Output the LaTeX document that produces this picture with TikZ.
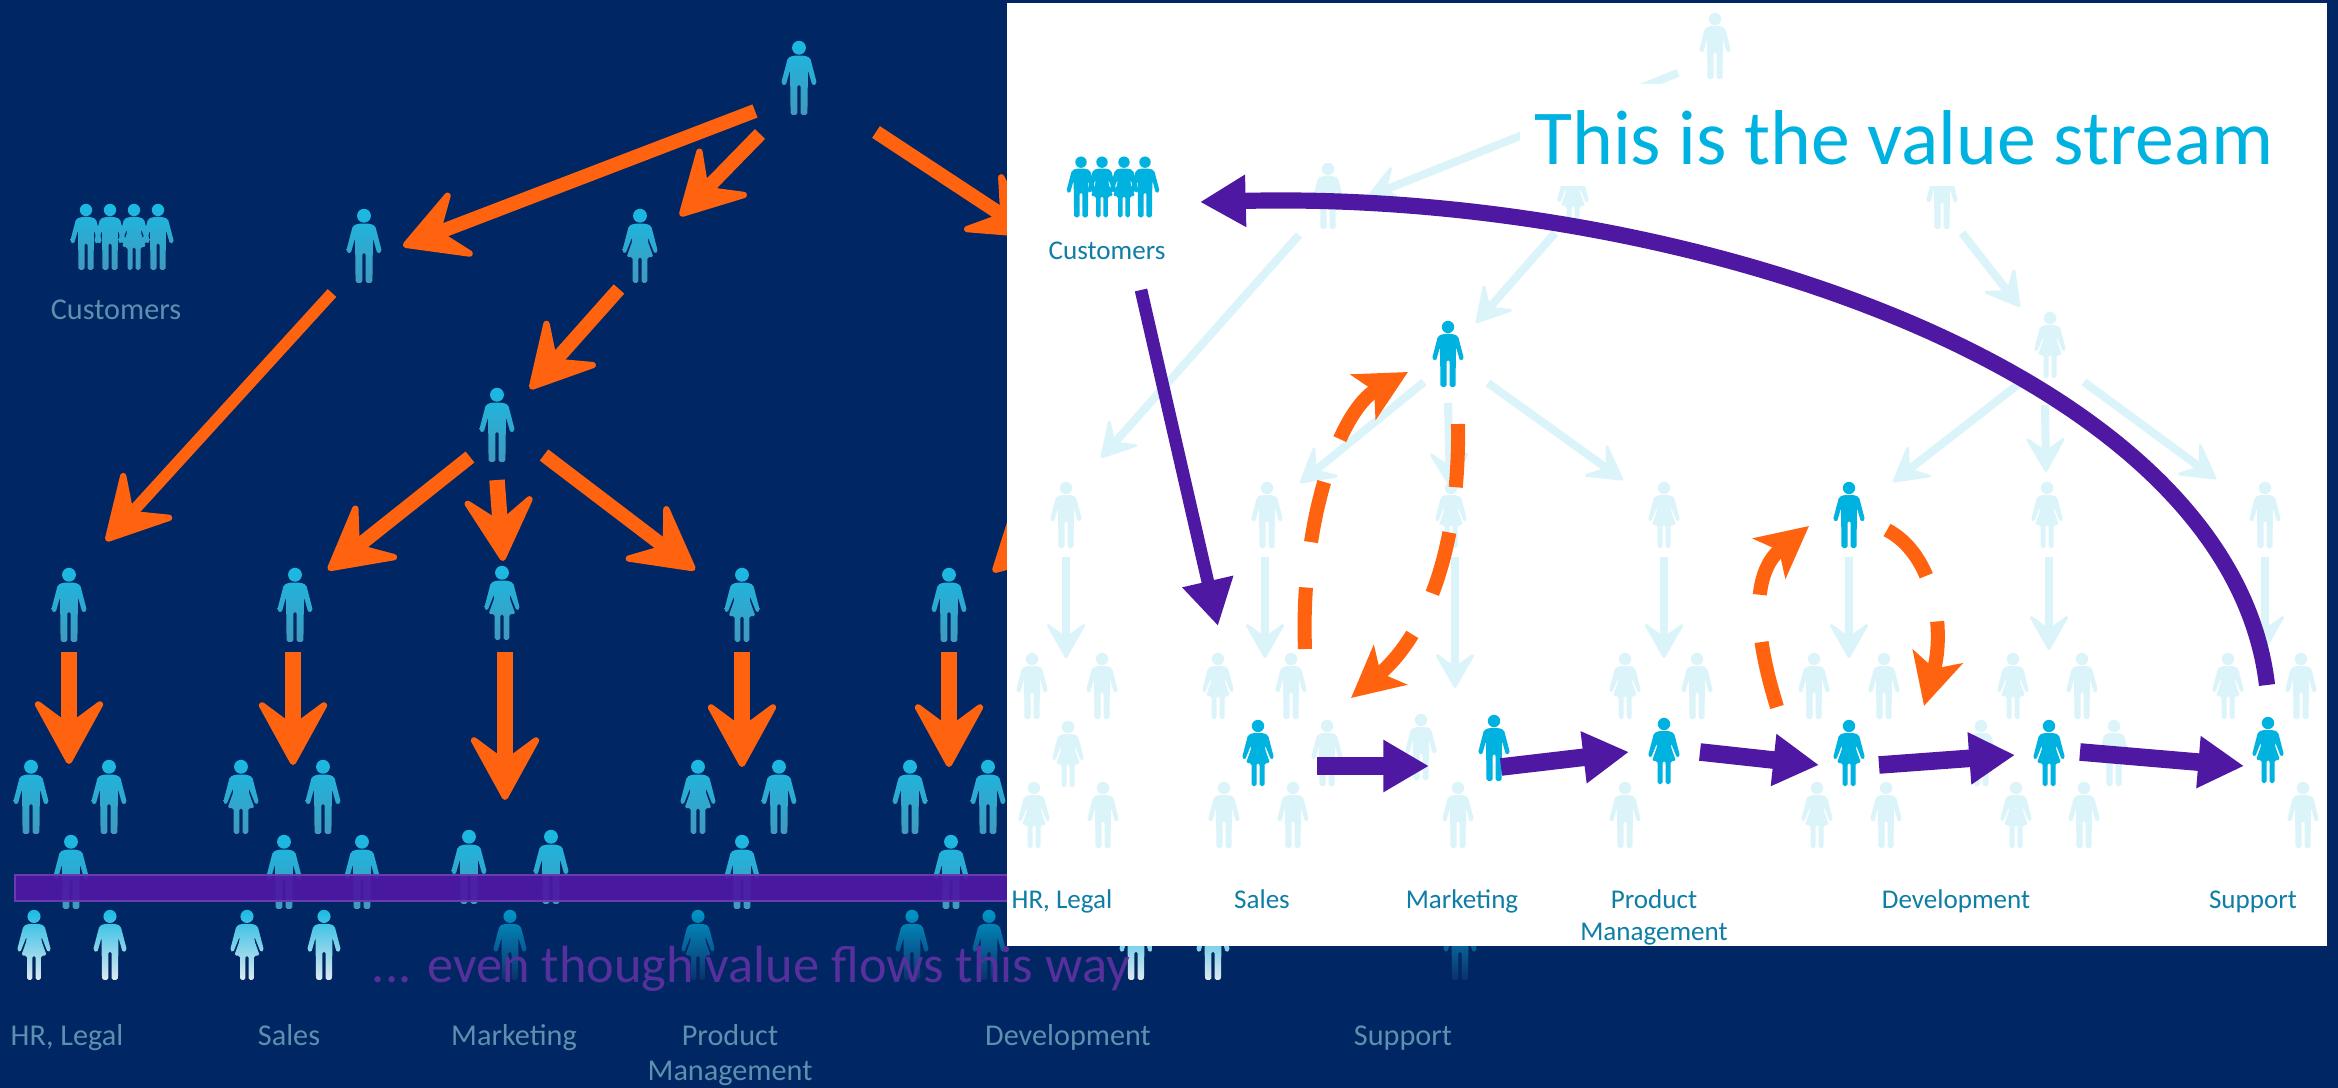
\documentclass[tikz,border=0pt]{standalone}
\usepackage{fontspec}
\setmainfont{Carlito}
\usetikzlibrary{arrows.meta}

\definecolor{navyback}{HTML}{002663}
\definecolor{flowred}{HTML}{FF6310}
\definecolor{streamviolet}{HTML}{4E18A3}
\definecolor{skyfig}{HTML}{00B2E0}
\definecolor{palefig}{HTML}{DBF4FA}
\definecolor{paneltext}{HTML}{0F7EA6}
\definecolor{darktext}{HTML}{5D8FAE}
\definecolor{flowtextcol}{HTML}{56309C}

\tikzset{
  man/.pic={
    \path[#1,rounded corners=0.5pt] (0,-27) circle (6.2)
      (-5,-20) -- (5,-20) -- (10,-18) -- (16,5) -- (12,7) -- (8,-7) -- (7.5,33) -- (1.5,33)
      -- (1.5,6) -- (-1.5,6) -- (-1.5,33) -- (-7.5,33) -- (-8,-7) -- (-12,7) -- (-16,5) -- (-10,-18) -- cycle;
  },
  woman/.pic={
    \path[#1,rounded corners=0.5pt] (0,-27) circle (6.2)
      (-5,-20) -- (5,-20) -- (10,-18) -- (16,5) -- (13,7) -- (7,-8) -- (7,-4) -- (12,10) -- (6.5,10) -- (6.5,33) -- (1.5,33)
      -- (1.5,10) -- (-1.5,10) -- (-1.5,33) -- (-6.5,33) -- (-6.5,10) -- (-12,10) -- (-7,-4) -- (-7,-8) -- (-13,7) -- (-16,5) -- (-10,-18) -- cycle;
  },
  darkfig/.style={top color=skyfig!90!white,bottom color=darktext!70!skyfig},
  whitefig/.style={top color=skyfig!90!white,middle color=white!95!skyfig,bottom color=white!80!darktext},
  fadefig/.style={top color=skyfig!80!navyback,middle color=navyback!90!skyfig,bottom color=navyback!95!white},
  palefill/.style={fill=palefig},
  skyfill/.style={fill=skyfig},
  redthin/.style={draw=flowred,line width=4pt,-{Stealth[length=21pt,width=23pt,inset=8.5pt,round,line width=1.8pt]}},
  redthick/.style={redthin,line width=4.8pt},
  palearrow/.style={draw=palefig,line width=2.3pt,-{Stealth[length=11pt,width=12.5pt,inset=4.5pt,round,line width=.8pt]}},
  streamarrow/.style={draw=streamviolet,line width=5pt,-{Triangle[length=13pt,width=14pt]}},
  redloop/.style={draw=flowred,line width=4pt,-{Stealth[length=14.5pt,width=14.5pt,inset=3.5pt]}},
  darktag/.style={text=darktext,font=\fontsize{8.6pt}{9pt}\selectfont,inner sep=0pt,anchor=base},
  paneltag/.style={text=paneltext,font=\fontsize{7.7pt}{8pt}\selectfont,inner sep=0pt,anchor=base},
}

\begin{document}
\begin{tikzpicture}[x=0.01cm,y=-0.01cm]
  \useasboundingbox (0,0) rectangle (2338,1088);
  \fill[navyback] (0,0) rectangle (2338,1088);

  % Dark side: people
  \foreach \x/\y in {799/78,364/246,497/425,69/605,295/605,949/605,31/797,109/797,323/797,779/797,910/797,988/797,284/872,362/872,469/867,551/867,742/872,951/872,71/872}
    \pic[scale=1.12] at (\x,\y) {man=darkfig};
  \foreach \x/\y in {640/246,502/603,742/605,241/797,698/797}
    \pic[scale=1.12] at (\x,\y) {woman=darkfig};
  \foreach \x in {86,110,158}
    \pic at (\x,237) {man=darkfig};
  \pic at (134,237) {woman=darkfig};

  % Dark side: lowest row
  \foreach \x in {110,324,1136,1213}
    \pic[scale=1.06] at (\x,945) {man=whitefig};
  \foreach \x in {34,247}
    \pic[scale=1.06] at (\x,945) {woman=whitefig};
  \foreach \x in {510,912,989,1460}
    \pic[scale=1.06] at (\x,945) {man=fadefig};
  \pic[scale=1.06] at (698,945) {woman=fadefig};

  % Dark side: command arrows
  \foreach \n/\x/\y in {ra/755/111,rb/403/246,rc/760/134,rd/680/216,re/876/132,rf/1034/236,rg/332/293,rh/106/541,
      ri/619/289,rj/530/389,rk/470/457,rl/328/570,rm/497/480,rn/503/561,ro/544/455,rp/695/570,rq/1100/470,rr/993/572}
    \coordinate (\n) at (\x,\y);
  \foreach \a/\b in {ra/rb,rc/rd,re/rf,ri/rj,rk/rl,ro/rp,rq/rr}
    \draw[redthin] (\a) -- (\b);
  \draw[redthin,line width=3.3pt] (rg) -- (rh);
  \draw[redthin,line width=4.4pt] (rm) -- (rn);

  \foreach \n/\x/\ya/\yb in {sa/69/652/764,sb/293/652/765,sc/505/652/800,sd/742/652/767,se/949/652/767}{
    \coordinate (\n s) at (\x,\ya);
    \coordinate (\n e) at (\x,\yb);
    \draw[redthick] (\n s) -- (\n e);
  }

  % Bar across the departments
  \draw[fill=streamviolet,draw=streamviolet!85!white,fill opacity=.93,line width=.5pt] (15,875) rectangle (1010,901);

  % Dark side: labels
  \node[text=flowtextcol,font=\fontsize{14.9pt}{15pt}\selectfont,inner sep=0pt,anchor=base] (flowtext) at (751,982) {... even though value flows this way};
  \node[darktag] (custdark) at (116,320) {Customers};
  \node[darktag] (hrdark) at (67,1045) {HR, Legal};
  \node[darktag] (salesdark) at (289,1045) {Sales};
  \node[darktag] (markdark) at (514,1045) {Marketing};
  \node[darktag] (proddark) at (730,1045) {Product};
  \node[darktag] (mandark) at (730,1080) {Management};
  \node[darktag] (devdark) at (1068,1045) {Development};
  \node[darktag] (supdark) at (1403,1045) {Support};

  % White panel
  \fill[white] (1007,3) rectangle (2327,946);

  % Panel: pale people
  \foreach \x/\y in {1715/46,1328/196,1942/196,1066/515,1267/515,1102/686,1032/686,1291/686,1697/686,1814/686,1884/686,2082/686,2301/686,
      1327/753,1421/747,1981/753,2114/753,1103/815,1293/815,1224/815,1458/815,1625/815,1886/815,2084/815,2303/815,2265/515}
    \pic at (\x,\y) {man=palefill};
  \foreach \x/\y in {1573/196,2050/345,1451/515,1664/515,2047/515,1218/686,1625/686,2013/686,2228/686,1068/754,1034/815,1817/815,2016/815}
    \pic at (\x,\y) {woman=palefill};

  % Panel: pale arrows
  \foreach \n/\x/\y in {pa/1678/73,pb/1367/197,pc/1683/90,pd/1573/175,pe/1781/93,pf/1930/185,pg/1299/235,ph/1101/458,pi/1555/233,pj/1476/323,
      pk/1962/233,pl/2020/307,pm/1424/382,pn/1300/483,po/1448/403,pp/1450/487,pq/1488/383,pr/1623/480,ps/2020/383,pt/1893/482,pu/2045/405,pv/2046/472,pw/2084/382,px/2216/479,
      qa/1066/557,qb/1066/658,qc/1265/557,qd/1265/658,qe/1455/557,qf/1455/688,qg/1664/557,qh/1664/658,qi/1849/557,qj/1849/658,qk/2049/557,ql/2049/650,qm/2265/557,qn/2265/650}
    \coordinate (\n) at (\x,\y);
  \foreach \a/\b in {pa/pb,pc/pd,pe/pf,pg/ph,pi/pj,pk/pl,pm/pn,po/pp,pq/pr,ps/pt,pu/pv,pw/px,qa/qb,qc/qd,qe/qf,qg/qh,qi/qj,qk/ql,qm/qn}
    \draw[palearrow] (\a) -- (\b);

  % Title sits on its own white box
  \fill[white] (1520,84) rectangle (2290,186);
  \node[text=skyfig,font=\fontsize{22.1pt}{24pt}\selectfont,inner sep=0pt,anchor=base] (streamtitle) at (1904,165) {This is the value stream};

  % Panel: people in the stream
  \foreach \x in {1081,1145}
    \pic[scale=.92] at (\x,187) {man=skyfill};
  \foreach \x in {1102,1124}
    \pic[scale=.92] at (\x,187) {woman=skyfill};
  \foreach \x/\y in {1448/354,1849/515,1494/748}
    \pic at (\x,\y) {man=skyfill};
  \foreach \x/\y in {1258/753,1664/751,1849/753,2049/753,2268/750}
    \pic at (\x,\y) {woman=skyfill};

  % Violet stream
  \foreach \n/\x/\y in {va/1317/766,vb/1429/766,vc/1501/767,vd/1629/752,ve/1700/752,vf/1819/765,vg/1879/765,vh/2015/755,vi/2080/752,vj/2244/766,
      vk/1141/290,vl/1218/626,vm/2267/685,vn/1200/202}
    \coordinate (\n) at (\x,\y);
  \foreach \a/\b in {va/vb,vc/vd,ve/vf,vg/vh,vi/vj}
    \draw[streamarrow] (\a) -- (\b);
  \draw[streamarrow,line width=3.6pt] (vk) -- (vl);
  \draw[streamarrow,line width=4.6pt] (vm) .. controls (2230,370) and (1680,190) .. (vn);

  % Orange loops
  \foreach \n/\x/\y in {la/1305/649,lb/1408/372,lc/1458/424,ld/1351/698,le/1777/707,lf/1809/526,lg/1887/530,lh/1924/706}
    \coordinate (\n) at (\x,\y);
  \draw[redloop,dash pattern=on 17.5pt off 13pt] (la) .. controls (1300,520) and (1340,410) .. (lb);
  \draw[redloop,dash pattern=on 18pt off 13pt] (lc) .. controls (1460,560) and (1420,640) .. (ld);
  \draw[redloop,dash pattern=on 19pt off 13.5pt] (le) .. controls (1750,620) and (1755,570) .. (lf);
  \draw[redloop,dash pattern=on 17.5pt off 13.4pt] (lg) .. controls (1935,555) and (1945,630) .. (lh);

  % Panel: labels
  \node[paneltag] (custpanel) at (1107,260) {Customers};
  \node[paneltag] (hrpanel) at (1062,908) {HR, Legal};
  \node[paneltag] (salespanel) at (1262,908) {Sales};
  \node[paneltag] (markpanel) at (1462,908) {Marketing};
  \node[paneltag] (prodpanel) at (1654,908) {Product};
  \node[paneltag] (manpanel) at (1654,940) {Management};
  \node[paneltag] (devpanel) at (1956,908) {Development};
  \node[paneltag] (suppanel) at (2253,908) {Support};
\end{tikzpicture}
\end{document}
